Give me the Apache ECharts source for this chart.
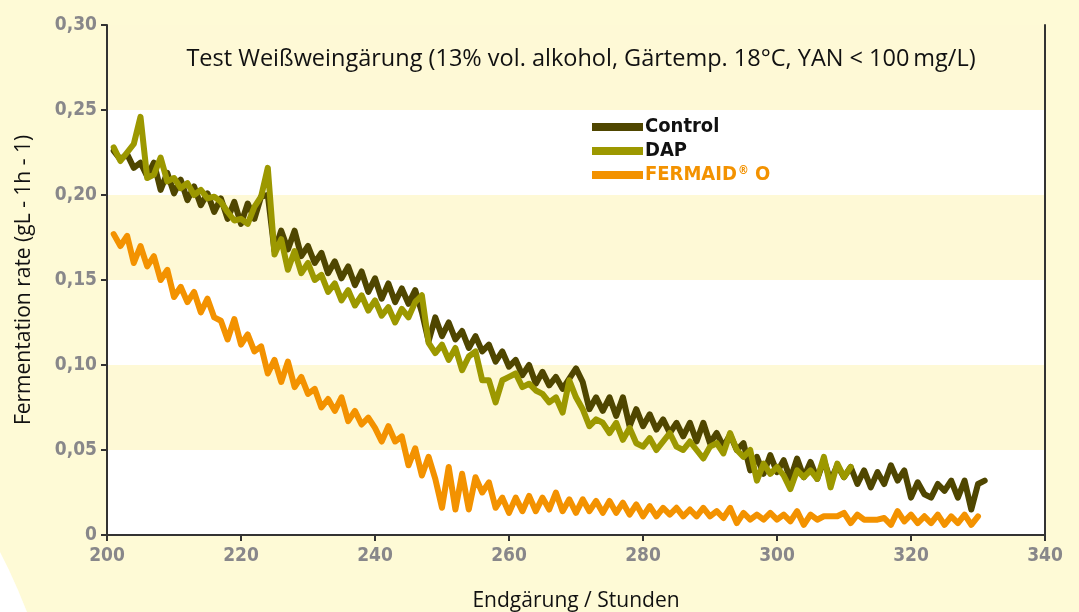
<!DOCTYPE html>
<html>
<head>
<meta charset="utf-8">
<script src="https://cdn.jsdelivr.net/npm/echarts@6/dist/echarts.min.js"></script>
<style>
html,body{margin:0;padding:0;background:#fefad6;}
#chart{width:1079px;height:612px;}
</style>
</head>
<body>
<div id="chart"></div>
<script>
// ---- data ----
const seriesNames = ['Control', 'DAP', 'FERMAID® O'];
const startHour = 201; // first sample (h), one sample per hour
const xTicks = [200, 220, 240, 260, 280, 300, 320, 340];
const yTicks = [0, 0.05, 0.10, 0.15, 0.20, 0.25, 0.30];

const controlValues = [
  0.226,0.221,0.224,0.216,0.219,0.211,0.219,0.203,0.213,0.201,
  0.209,0.197,0.205,0.194,0.201,0.190,0.198,0.186,0.196,0.183,
  0.195,0.186,0.199,0.200,0.167,0.179,0.168,0.179,0.164,0.170,
  0.160,0.166,0.154,0.161,0.151,0.158,0.147,0.155,0.143,0.151,
  0.139,0.148,0.137,0.145,0.136,0.144,0.131,0.114,0.128,0.117,
  0.125,0.115,0.120,0.110,0.117,0.108,0.112,0.102,0.108,0.099,
  0.103,0.094,0.100,0.089,0.096,0.088,0.093,0.086,0.092,0.098,
  0.090,0.074,0.081,0.073,0.081,0.070,0.081,0.064,0.074,0.064,
  0.071,0.062,0.068,0.060,0.066,0.058,0.066,0.055,0.066,0.054,
  0.060,0.052,0.059,0.050,0.054,0.038,0.046,0.036,0.047,0.037,
  0.044,0.033,0.045,0.034,0.043,0.033,0.044,0.032,0.041,0.034,
  0.040,0.030,0.038,0.028,0.037,0.030,0.041,0.032,0.038,0.022,
  0.031,0.024,0.022,0.030,0.026,0.032,0.022,0.032,0.015,0.030,
  0.032
];

const dapValues = [
  0.228,0.220,0.225,0.230,0.246,0.210,0.212,0.222,0.208,0.210,
  0.204,0.207,0.200,0.203,0.198,0.199,0.196,0.190,0.185,0.186,
  0.183,0.193,0.199,0.216,0.165,0.174,0.156,0.167,0.154,0.160,
  0.150,0.153,0.143,0.148,0.138,0.144,0.135,0.141,0.132,0.138,
  0.129,0.134,0.125,0.133,0.128,0.137,0.141,0.113,0.107,0.112,
  0.103,0.110,0.097,0.105,0.108,0.091,0.091,0.078,0.091,0.093,
  0.095,0.087,0.089,0.085,0.083,0.078,0.081,0.072,0.091,0.081,
  0.074,0.064,0.068,0.066,0.060,0.066,0.056,0.063,0.054,0.052,
  0.057,0.050,0.055,0.060,0.052,0.050,0.055,0.050,0.045,0.052,
  0.054,0.048,0.060,0.050,0.046,0.050,0.032,0.042,0.036,0.040,
  0.035,0.027,0.038,0.034,0.038,0.033,0.046,0.028,0.042,0.034,
  0.040
];

const fermaidValues = [
  0.177,0.170,0.176,0.160,0.170,0.158,0.164,0.150,0.156,0.140,
  0.146,0.137,0.143,0.131,0.139,0.128,0.126,0.115,0.127,0.112,
  0.118,0.108,0.111,0.095,0.103,0.090,0.102,0.087,0.093,0.083,
  0.086,0.075,0.080,0.073,0.081,0.067,0.073,0.065,0.069,0.063,
  0.055,0.064,0.055,0.058,0.041,0.051,0.035,0.046,0.033,0.016,
  0.040,0.015,0.036,0.015,0.034,0.025,0.031,0.016,0.022,0.013,
  0.022,0.014,0.023,0.014,0.022,0.015,0.025,0.014,0.021,0.013,
  0.021,0.014,0.020,0.013,0.020,0.013,0.019,0.012,0.018,0.011,
  0.017,0.011,0.016,0.012,0.016,0.011,0.015,0.011,0.016,0.011,
  0.014,0.010,0.016,0.007,0.013,0.009,0.012,0.009,0.013,0.009,
  0.012,0.008,0.014,0.006,0.012,0.009,0.011,0.011,0.011,0.013,
  0.007,0.012,0.009,0.009,0.009,0.010,0.006,0.014,0.008,0.012,
  0.007,0.011,0.007,0.012,0.006,0.011,0.007,0.012,0.006,0.011
];

const seriesColors = ['#4f4600', '#9c9800', '#f39200'];

function toPairs(vals) { return vals.map((v, i) => [startHour + i, v]); }
const allValues = [controlValues, dapValues, fermaidValues];

const chart = echarts.init(document.getElementById('chart'));
const labelFont = '"DejaVu Sans Condensed", "DejaVu Sans", Roboto, sans-serif';
const textFont = '"Open Sans", sans-serif';
const tickColor = '#333333';

const option = {
  animation: false,
  backgroundColor: '#fefad6',
  grid: { left: 107, right: 34, top: 25, bottom: 77, containLabel: false, outerBoundsMode: 'none' },
  title: {
    text: 'Test Weißweingärung (13% vol. alkohol, Gärtemp. 18°C, YAN < 100\u2009mg/L)',
    left: 576, top: 42, textAlign: 'center',
    textStyle: { fontFamily: textFont, fontWeight: 'normal', fontSize: 23.5, color: '#111' }
  },
  legend: {
    orient: 'vertical', left: 587, top: 112,
    itemWidth: 51, itemHeight: 8, itemGap: 4, icon: 'rect',
    textStyle: {
      fontFamily: labelFont, fontWeight: 'bold', fontSize: 20, color: '#111', padding: [0, 0, 0, -3],
      rich: {
        o: { fontFamily: labelFont, fontWeight: 'bold', fontSize: 20, color: '#f39200' },
        s: { fontFamily: labelFont, fontWeight: 'bold', fontSize: 12, color: '#f39200', verticalAlign: 'top', padding: [0, 0, 8, 1] }
      }
    },
    data: [
      { name: seriesNames[0] },
      { name: seriesNames[1] },
      { name: seriesNames[2], textStyle: { color: '#f39200' } }
    ],
    formatter: function (n) {
      if (n === seriesNames[2]) return '{o|FERMAID}{s|®}{o| O}';
      return n;
    }
  },
  xAxis: [{
    type: 'value', min: 200, max: 340, interval: 20,
    name: 'Endgärung / Stunden', nameLocation: 'middle', nameGap: 56,
    nameTextStyle: { fontFamily: textFont, fontSize: 21, color: '#111' },
    axisLine: { show: true, onZero: false, lineStyle: { color: tickColor, width: 2 } },
    axisTick: { show: true, inside: false, length: 6, lineStyle: { color: tickColor, width: 2 } },
    axisLabel: { margin: 12, fontFamily: labelFont, fontWeight: 'bold', fontSize: 19, color: '#88878a' },
    splitLine: { show: false }
  }, {
    type: 'value', min: 200, max: 340, position: 'top',
    axisLine: { show: true, lineStyle: { color: tickColor, width: 2 } },
    axisTick: { show: false }, axisLabel: { show: false }, splitLine: { show: false }
  }],
  yAxis: [{
    type: 'value', min: 0, max: 0.30, interval: 0.05,
    name: 'Fermentation rate (gL - 1h - 1)', nameLocation: 'middle', nameGap: 72, nameRotate: 90,
    nameTextStyle: { fontFamily: textFont, fontSize: 21, color: '#111' },
    axisLine: { show: true, lineStyle: { color: tickColor, width: 2 } },
    axisTick: { show: true, inside: false, length: 6, lineStyle: { color: tickColor, width: 2 } },
    axisLabel: {
      margin: 10, fontFamily: labelFont, fontWeight: 'bold', fontSize: 19, color: '#88878a',
      formatter: function (v) { return v === 0 ? '0' : v.toFixed(2).replace('.', ','); }
    },
    splitLine: { show: false },
    splitArea: { show: true, areaStyle: { color: ['#ffffff', '#fef9d6'] } }
  }, {
    type: 'value', min: 0, max: 0.30, position: 'right',
    axisLine: { show: true, lineStyle: { color: tickColor, width: 2 } },
    axisTick: { show: false }, axisLabel: { show: false }, splitLine: { show: false }
  }],
  graphic: [{
    type: 'polygon', z: -10, silent: true,
    shape: { points: [[0, 552], [9, 570], [18, 590], [27, 612], [0, 612]] },
    style: { fill: '#ffffff' }
  }],
  series: seriesNames.map((n, i) => ({
    name: n, type: 'line', data: toPairs(allValues[i]),
    showSymbol: false, symbol: 'none', smooth: false,
    lineStyle: { color: seriesColors[i], width: 6, cap: 'round', join: 'round' },
    itemStyle: { color: seriesColors[i] },
    z: i === 1 ? 3 : 2
  }))
};
chart.setOption(option);
</script>
</body>
</html>
